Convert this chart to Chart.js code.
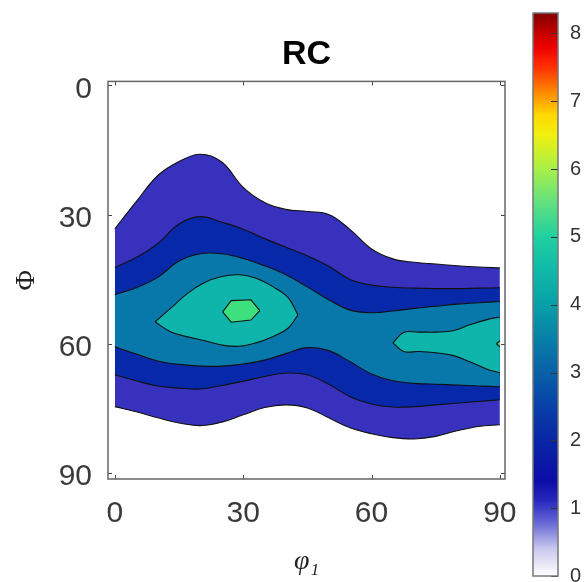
<!DOCTYPE html>
<html>
<head>
<meta charset="utf-8">
<script src="https://cdn.jsdelivr.net/npm/chart.js@4.4.1/dist/chart.umd.min.js"></script>
<style>
  html, body { margin: 0; padding: 0; background: #fff; overflow: hidden; }
  #wrap { position: relative; width: 587px; height: 582px; }
  #contour { position: absolute; left: 0; top: 0; }
  #colorbar { position: absolute; left: 520px; top: 0; }
</style>
</head>
<body>
<div id="wrap">
  <canvas id="contour" width="587" height="582"></canvas>
  <canvas id="colorbar" width="67" height="582"></canvas>
</div>
<script>
// tick positions
const PHI1_TICKS = [0, 30, 60, 90];
const PHI_TICKS = [0, 30, 60, 90];
const CBAR_TICKS = [0, 1, 2, 3, 4, 5, 6, 7, 8];
const CBAR_MAX = 8.3;

// contour levels 1..3 run across the whole phi1 range (sampled every 5 deg)
const PHI1 = [0, 5, 10, 15, 20, 25, 30, 35, 40, 45, 50, 55, 60, 65, 70, 75, 80, 85, 90];
const LEVEL1_TOP = [33.3, 27, 21, 17.7, 16, 17.8, 23.7, 27.2, 28.8, 29.3, 30, 33.5, 38, 40.3, 41.1, 41.5, 41.9, 42.2, 42.4];
const LEVEL1_BOT = [74.6, 75.8, 77.2, 78.4, 79, 78.2, 76.5, 74.8, 74.2, 74.9, 77.2, 79.5, 80.9, 81.8, 82.1, 81.5, 80.2, 79.2, 78.8];
const LEVEL2_TOP = [42.3, 40, 36.8, 32.2, 30.5, 31.8, 33.4, 35.6, 37.6, 39.6, 42, 45.1, 46.4, 46.9, 47.1, 47.2, 47.2, 47.1, 47];
const LEVEL2_BOT = [67.2, 68.6, 69.8, 70.3, 70.5, 69.7, 68.7, 67.6, 66.8, 67.2, 69.4, 72.3, 74, 74.7, 74.6, 74.2, 73.8, 73.4, 73];
const LEVEL3_TOP = [48.6, 47, 44.6, 40.8, 39.1, 39.1, 40.2, 41.9, 44, 46.8, 49.8, 52.2, 52.8, 52.4, 51.8, 51.3, 50.8, 50.5, 50.2];
const LEVEL3_BOT = [60.7, 62.4, 64, 64.8, 65.2, 65.2, 64.7, 63.8, 62.3, 60.9, 61.6, 64.2, 67, 68.6, 69.2, 69.4, 69.6, 69.8, 70];

// level 4, left island
const ISLAND_A_PHI1 = [9.4, 13, 17, 21, 25, 29, 33, 37, 40.5, 42.8];
const ISLAND_A_TOP = [54.9, 51.8, 48.3, 45.8, 44.4, 44, 44.8, 46.8, 49.3, 53.3];
const ISLAND_A_BOT = [54.9, 57.2, 58.4, 59.3, 60.3, 60.6, 59.8, 58.3, 56.4, 53.3];

// level 4, right island
const ISLAND_B_PHI1 = [65, 67.5, 71, 75, 79, 83, 87, 90];
const ISLAND_B_TOP = [59.8, 57.4, 57.3, 57.3, 57, 55.6, 54.4, 53.8];
const ISLAND_B_BOT = [59.8, 61.8, 61.8, 62.1, 62.7, 64.2, 65.9, 66.7];

// level 5 peak and the tiny one on the right edge
const PEAK_PHI1 = [25.2, 27.2, 31.8, 33.9];
const PEAK_TOP = [52.6, 50, 49.8, 52.3];
const PEAK_BOT = [52.6, 55, 54.5, 52.3];
const EDGE_PHI1 = [89.2, 90];
const EDGE_TOP = [60, 59.3];
const EDGE_BOT = [60, 60.7];

const BAND_COLORS = ['#3731be', '#0828aa', '#0877a9', '#0fb4aa', '#3ee07e'];

// white -> blue -> teal -> green -> yellow -> red
const COLORMAP = [
  [0, '#ffffff'], [0.4, '#c8c8ee'], [0.8, '#6464d4'], [1.1, '#2a2ac0'], [1.4, '#0c0ca8'],
  [2.0, '#0a25a5'], [2.5, '#0840a8'], [3.0, '#0860a8'], [3.5, '#0880a8'], [4.0, '#08a0a8'],
  [4.5, '#10b8a8'], [5.0, '#20d0a0'], [5.5, '#60e080'], [6.0, '#a8f048'], [6.5, '#f0f010'],
  [6.8, '#ffd800'], [7.1, '#ff9000'], [7.5, '#ff3000'], [7.8, '#ee0000'], [8.1, '#b00000'],
  [8.3, '#800000']
];

// one filled band = upper contour filled down to the lower contour
function band(level, xs, top, bot, straight) {
  const pts = (ys) => xs.map((x, i) => ({ x: x, y: ys[i] }));
  const common = {
    borderColor: '#111',
    borderWidth: 1.1,
    pointRadius: 0,
    order: 10 - level,
    tension: straight ? 0 : 0.4,
  };
  return [
    { ...common, data: pts(top), fill: '+1', backgroundColor: BAND_COLORS[level - 1] },
    { ...common, data: pts(bot), fill: false },
  ];
}

const datasets = [
  ...band(1, PHI1, LEVEL1_TOP, LEVEL1_BOT),
  ...band(2, PHI1, LEVEL2_TOP, LEVEL2_BOT),
  ...band(3, PHI1, LEVEL3_TOP, LEVEL3_BOT),
  ...band(4, ISLAND_A_PHI1, ISLAND_A_TOP, ISLAND_A_BOT),
  ...band(4, ISLAND_B_PHI1, ISLAND_B_TOP, ISLAND_B_BOT),
  ...band(5, PEAK_PHI1, PEAK_TOP, PEAK_BOT, true),
  ...band(5, EDGE_PHI1, EDGE_TOP, EDGE_BOT, true),
];

// box around the plot area with small inward ticks
const framePlugin = {
  id: 'frame',
  afterDraw(chart, args, opts) {
    const { ctx, chartArea: a, scales } = chart;
    ctx.save();
    ctx.strokeStyle = opts.tickColor;
    ctx.lineWidth = 1;
    ctx.beginPath();
    const len = opts.tickLength;
    (opts.xSides || []).forEach((side) => {
      scales.x.ticks.forEach((t) => {
        const px = Math.round(scales.x.getPixelForValue(t.value)) + 0.5;
        const y0 = side === 'top' ? a.top : a.bottom;
        ctx.moveTo(px, y0);
        ctx.lineTo(px, side === 'top' ? y0 + len : y0 - len);
      });
    });
    (opts.ySides || []).forEach((side) => {
      scales.y.ticks.forEach((t) => {
        const py = Math.round(scales.y.getPixelForValue(t.value)) + 0.5;
        const x0 = side === 'left' ? a.left : a.right;
        ctx.moveTo(x0, py);
        ctx.lineTo(side === 'left' ? x0 + len : x0 - len, py);
      });
    });
    ctx.stroke();
    ctx.strokeStyle = opts.color;
    ctx.lineWidth = opts.width;
    ctx.strokeRect(a.left, a.top, a.right - a.left, a.bottom - a.top);
    ctx.restore();
  }
};

const tickFont = { family: "'Liberation Sans', Arial, sans-serif", size: 30 };

new Chart(document.getElementById('contour'), {
  type: 'line',
  data: { datasets: datasets },
  plugins: [framePlugin],
  options: {
    responsive: false,
    animation: false,
    events: [],
    layout: { padding: { left: 0, right: 82, top: 0, bottom: 0 } },
    plugins: {
      legend: { display: false },
      tooltip: { enabled: false },
      filler: { drawTime: 'beforeDatasetsDraw' },
      title: {
        display: true,
        fullSize: false,
        text: 'RC',
        color: '#000',
        font: { family: "'Liberation Sans', Arial, sans-serif", size: 34, weight: 'bold' },
        padding: { top: 34, bottom: 6.6 },
      },
      frame: { color: '#666', width: 1.5, tickColor: '#444', tickLength: 4, xSides: ['bottom', 'top'], ySides: ['left', 'right'] },
    },
    scales: {
      x: {
        type: 'linear',
        min: -1.6,
        max: 91.2,
        grid: { display: false, drawTicks: false },
        border: { display: false },
        afterBuildTicks: (s) => { s.ticks = PHI1_TICKS.map((v) => ({ value: v })); },
        afterFit: (s) => { s.height = 103; s.paddingLeft = 0; s.paddingRight = 0; },
        ticks: { font: tickFont, color: '#3a3a3a', padding: 17, maxRotation: 0 },
        title: {
          display: true,
          text: 'φ₁',
          color: '#222',
          font: { family: "'Liberation Serif', 'DejaVu Serif', serif", size: 28, style: 'italic' },
          padding: { top: 0, bottom: 4 },
        },
      },
      y: {
        type: 'linear',
        reverse: true,
        min: -0.9,
        max: 91.4,
        grid: { display: false, drawTicks: false },
        border: { display: false },
        afterBuildTicks: (s) => { s.ticks = PHI_TICKS.map((v) => ({ value: v })); },
        afterFit: (s) => { s.width = 108; s.paddingTop = 0; s.paddingBottom = 0; },
        ticks: { font: tickFont, color: '#3a3a3a', padding: 16, labelOffset: 4 },
        title: {
          display: true,
          text: 'Φ',
          color: '#222',
          font: { family: "'Liberation Serif', 'DejaVu Serif', serif", size: 28 },
          padding: { top: 10, bottom: 0 },
        },
      },
    },
  },
});

// colour bar: one floating bar painted with the colormap
function colorbarGradient(context) {
  const chart = context.chart;
  const { chartArea, scales } = chart;
  if (!chartArea) return COLORMAP[0][1];
  const y0 = scales.y.getPixelForValue(0);
  const y1 = scales.y.getPixelForValue(CBAR_MAX);
  const g = chart.ctx.createLinearGradient(0, y0, 0, y1);
  COLORMAP.forEach(([v, c]) => g.addColorStop(v / CBAR_MAX, c));
  return g;
}

new Chart(document.getElementById('colorbar'), {
  type: 'bar',
  data: {
    labels: [''],
    datasets: [{
      data: [[0, CBAR_MAX]],
      backgroundColor: colorbarGradient,
      borderWidth: 0,
      barPercentage: 1,
      categoryPercentage: 1,
    }],
  },
  plugins: [framePlugin],
  options: {
    responsive: false,
    animation: false,
    events: [],
    layout: { padding: { left: 13, right: 0, top: 13, bottom: 6 } },
    plugins: {
      legend: { display: false },
      tooltip: { enabled: false },
      frame: { color: '#777', width: 1.5, tickColor: '#333', tickLength: 7, xSides: [], ySides: ['right'] },
    },
    scales: {
      x: { display: false },
      y: {
        position: 'right',
        min: 0,
        max: CBAR_MAX,
        grid: { display: false, drawTicks: false },
        border: { display: false },
        afterBuildTicks: (s) => { s.ticks = CBAR_TICKS.map((v) => ({ value: v })); },
        afterFit: (s) => { s.width = 29; s.paddingTop = 0; s.paddingBottom = 0; },
        ticks: { font: { family: "'Liberation Sans', Arial, sans-serif", size: 20 }, color: '#333', padding: 12 },
      },
    },
  },
});
</script>
</body>
</html>
